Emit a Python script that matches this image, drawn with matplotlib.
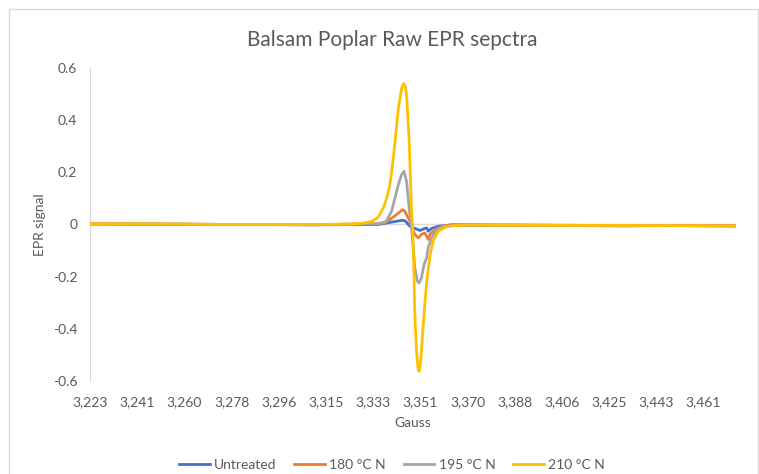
import matplotlib.pyplot as plt
from matplotlib.patches import Rectangle
from matplotlib.ticker import FixedLocator

plt.rcParams['font.family'] = ['Lato', 'DejaVu Sans']

# field positions (G) and signal for each sample
gauss_untreated = [3223, 3250, 3280, 3310, 3334.9, 3340.2, 3344.1, 3345.5, 3347.3, 3349.2,
                   3351.2, 3353.1, 3353.8, 3354.4, 3355.7, 3358.3, 3360.9, 3364, 3400, 3440, 3473.5]
sig_untreated = [0.002, 0.001, 0.0, -0.001, 0.0, 0.009, 0.016, 0.014, -0.007, -0.015,
                 -0.023, -0.015, -0.013, -0.026, -0.015, -0.007, -0.004, -0.001, -0.003, -0.004, -0.005]

gauss_180 = [3223, 3250, 3280, 3310, 3336, 3338.7, 3342.1, 3344.4, 3345.2, 3346.6, 3347.6,
             3347.9, 3349.2, 3350.5, 3351.8, 3353.1, 3354.4, 3355.1, 3356.3, 3358.3, 3360.9,
             3364, 3400, 3440, 3473.5]
sig_180 = [0.003, 0.002, 0.0, -0.001, 0.003, 0.013, 0.038, 0.057, 0.052, 0.027, 0.005,
           -0.012, -0.038, -0.051, -0.038, -0.032, -0.057, -0.038, -0.026, -0.013, -0.004,
           -0.002, -0.003, -0.004, -0.005]

gauss_195 = [3223, 3250, 3280, 3310, 3334.9, 3338, 3340.2, 3342.8, 3344.1, 3345.0, 3346.0,
             3347.0, 3347.9, 3348.6, 3349.2, 3350.2, 3350.9, 3351.8, 3352.8, 3353.8, 3354.4,
             3355.7, 3357.7, 3360.2, 3363.5, 3400, 3430, 3450, 3473.5]
sig_195 = [0.003, 0.002, 0.0, -0.001, 0.003, 0.01, 0.051, 0.153, 0.192, 0.204, 0.166,
           0.064, -0.01, -0.088, -0.165, -0.217, -0.224, -0.204, -0.153, -0.128, -0.089,
           -0.051, -0.019, -0.007, -0.004, -0.003, -0.006, -0.004, -0.006]

gauss_210 = [3223, 3250, 3280, 3310, 3325, 3329, 3332.5, 3334.9, 3336.9, 3338.2, 3339.5,
             3340.5, 3341.5, 3342.8, 3344.1, 3344.6, 3345.0, 3345.5, 3346.0, 3347.0, 3347.9,
             3348.3, 3348.8, 3349.2, 3349.9, 3350.4, 3350.8, 3351.2, 3351.6, 3352.5, 3353.8,
             3355.1, 3356.3, 3358.3, 3360.9, 3364.1, 3370, 3400, 3440, 3473.5]
sig_210 = [0.003, 0.002, 0.0, 0.0, 0.002, 0.005, 0.012, 0.027, 0.062, 0.098, 0.15,
           0.225, 0.315, 0.445, 0.522, 0.537, 0.54, 0.528, 0.498, 0.325, 0.06,
           0.0, -0.15, -0.345, -0.49, -0.545, -0.563, -0.55, -0.51, -0.38, -0.22,
           -0.118, -0.064, -0.026, -0.011, -0.004, -0.002, -0.003, -0.004, -0.005]

# category labels along the field axis
tick_gauss = [3223 + i * 55 / 3 for i in range(14)]
tick_labels = ['3,223', '3,241', '3,260', '3,278', '3,296', '3,315', '3,333',
               '3,351', '3,370', '3,388', '3,406', '3,425', '3,443', '3,461']

text_color = '#595959'

fig = plt.figure(figsize=(7.59, 4.74), dpi=100)
ax = fig.add_axes([90 / 759, 1 - 381 / 474, (736 - 90) / 759, (381 - 68) / 474])

ax.axhline(0, color='#d9d9d9', lw=1, zorder=1)
ax.plot(gauss_untreated, sig_untreated, color='#4472C4', lw=2, label='Untreated', zorder=2)
ax.plot(gauss_180, sig_180, color='#ED7D31', lw=2, label='180 °C N', zorder=3)
ax.plot(gauss_195, sig_195, color='#A5A5A5', lw=2, label='195 °C N', zorder=4)
ax.plot(gauss_210, sig_210, color='#FFC000', lw=2, label='210 °C N', zorder=5)

ax.set_xlim(3223, 3474)
ax.set_ylim(-0.6, 0.6)
ax.xaxis.set_major_locator(FixedLocator(tick_gauss))
ax.set_xticklabels(tick_labels)
ax.set_yticks([-0.6, -0.4, -0.2, 0, 0.2, 0.4, 0.6])
ax.set_yticklabels(['-0.6', '-0.4', '-0.2', '0', '0.2', '0.4', '0.6'])
ax.tick_params(axis='x', length=0, pad=11, labelsize=10, labelcolor=text_color)
ax.tick_params(axis='y', length=0, pad=9, labelsize=10, labelcolor=text_color)

for side in ['top', 'right', 'bottom']:
    ax.spines[side].set_visible(False)
ax.spines['left'].set_color('#d9d9d9')

ax.set_xlabel('Gauss', fontsize=10, color=text_color, labelpad=6)
ax.set_ylabel('EPR signal', fontsize=10, color=text_color, labelpad=5)

fig.text(392 / 759, 1 - 40 / 474, 'Balsam Poplar Raw EPR sepctra', ha='center', va='center',
         fontsize=15, color=text_color)

fig.legend(loc='center', bbox_to_anchor=(392 / 759, 1 - 465 / 474), ncol=4, frameon=False,
           fontsize=10, handlelength=2.2, handletextpad=0.3, columnspacing=1.3,
           labelcolor=text_color)

fig.patches.append(Rectangle((9 / 759, -0.05), 749 / 759, 1.05 - 9 / 474,
                             transform=fig.transFigure, fill=False,
                             edgecolor='#d9d9d9', lw=1))

fig.savefig('out.png', dpi=100)
